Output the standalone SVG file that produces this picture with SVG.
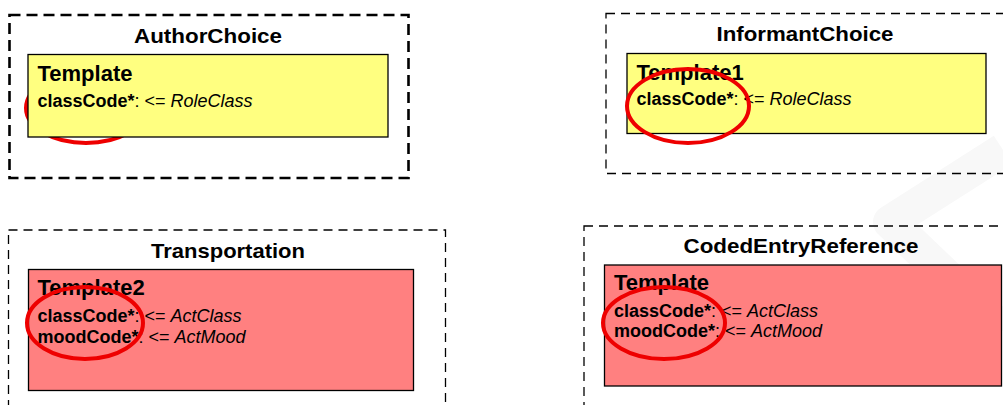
<svg xmlns="http://www.w3.org/2000/svg" width="1003" height="405" viewBox="0 0 1003 405">
<style>
.outer{fill:none;stroke:#000;stroke-width:1.3;stroke-dasharray:9,6}
.outerThick{fill:none;stroke:#000;stroke-width:2.6;stroke-dasharray:11,6}
.yellow{fill:#ffff80;stroke:#000;stroke-width:1.3}
.red{fill:#ff8080;stroke:#000;stroke-width:1.3}
.title{font-family:"Liberation Sans",Arial,sans-serif;font-weight:bold;font-size:21px;fill:#000;text-anchor:middle}
.tname{font-family:"Liberation Sans",Arial,sans-serif;font-weight:bold;font-size:22px;fill:#000}
.attr{font-family:"Liberation Sans",Arial,sans-serif;font-size:18px;fill:#000}
.b{font-weight:bold}
.i{font-style:italic}
.mark{fill:none;stroke:#e00;stroke-width:4}
.wm{fill:none;stroke:#f8f8f8;stroke-width:34;stroke-linejoin:round}
</style>
<rect width="1003" height="405" fill="#fff"/>
<path class="wm" d="M1003,150 L890,222 L1003,330"/>

<g id="AuthorChoice">
<rect class="outerThick" x="9.5" y="15" width="399" height="163"/>
<text class="title" x="208" y="42.5" textLength="148" lengthAdjust="spacingAndGlyphs">AuthorChoice</text>
<ellipse class="mark" cx="86" cy="108" rx="60" ry="35"/>
<rect class="yellow" x="28" y="54.5" width="360" height="82.5"/>
<text class="tname" x="37.5" y="81">Template</text>
<text class="attr" x="37.5" y="106.5"><tspan class="b">classCode*</tspan>: &lt;= <tspan class="i">RoleClass</tspan></text>
</g>

<g id="InformantChoice">
<rect class="outer" x="606" y="13.5" width="420" height="160"/>
<text class="title" x="805" y="41.3" textLength="177" lengthAdjust="spacingAndGlyphs">InformantChoice</text>
<rect class="yellow" x="627" y="53.5" width="359" height="80"/>
<text class="tname" x="636.5" y="80">Template1</text>
<text class="attr" x="636.5" y="105"><tspan class="b">classCode*</tspan>: &lt;= <tspan class="i">RoleClass</tspan></text>
<ellipse class="mark" cx="688" cy="106" rx="61" ry="37"/>
</g>

<g id="Transportation">
<rect class="outer" x="8.5" y="230" width="437" height="200"/>
<text class="title" x="228" y="258.3" textLength="154" lengthAdjust="spacingAndGlyphs">Transportation</text>
<rect class="red" x="28.5" y="269.5" width="385" height="121"/>
<text class="tname" x="37.5" y="295">Template2</text>
<text class="attr" x="37.5" y="321.7"><tspan class="b">classCode*</tspan>: &lt;= <tspan class="i">ActClass</tspan></text>
<text class="attr" x="37.5" y="342.7"><tspan class="b">moodCode*</tspan>: &lt;= <tspan class="i">ActMood</tspan></text>
<ellipse class="mark" cx="85" cy="323" rx="58" ry="36"/>
</g>

<g id="CodedEntryReference">
<rect class="outer" x="584" y="226" width="440" height="200"/>
<text class="title" x="801" y="253.3" textLength="235" lengthAdjust="spacingAndGlyphs">CodedEntryReference</text>
<rect class="red" x="604.5" y="265" width="397" height="121"/>
<text class="tname" x="614" y="290">Template</text>
<text class="attr" x="614" y="316.7"><tspan class="b">classCode*</tspan>: &lt;= <tspan class="i">ActClass</tspan></text>
<text class="attr" x="614" y="336.7"><tspan class="b">moodCode*</tspan>: &lt;= <tspan class="i">ActMood</tspan></text>
<ellipse class="mark" cx="664" cy="323" rx="61" ry="36"/>
</g>

<g id="connectors"></g>
</svg>
